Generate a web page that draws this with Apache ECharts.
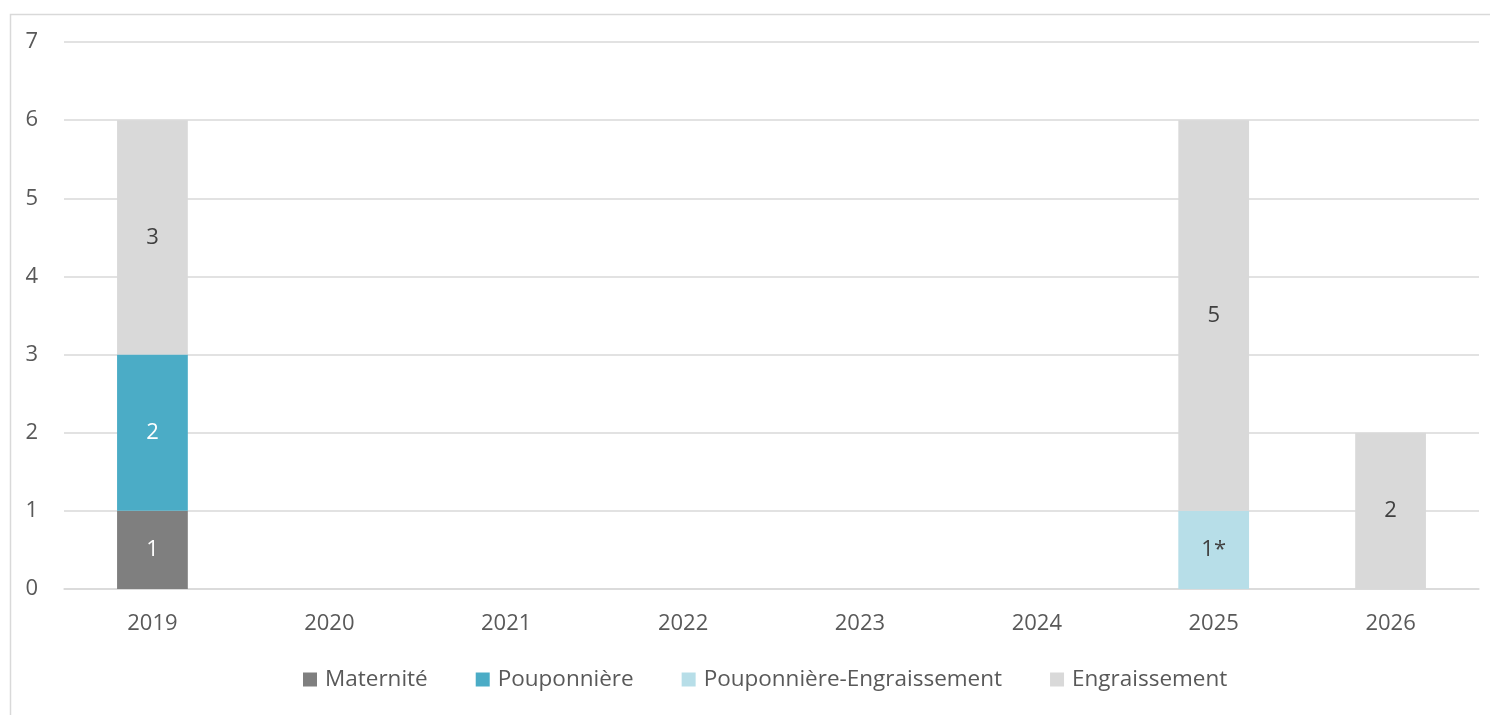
<!DOCTYPE html>
<html><head><meta charset="utf-8">
<script src="https://cdn.jsdelivr.net/npm/echarts@6/dist/echarts.min.js"></script>
<style>html,body{margin:0;padding:0;background:#fff;}#c{width:1490px;height:715px;}</style>
</head><body><div id="c"></div>
<script>
const categories = ['2019','2020','2021','2022','2023','2024','2025','2026'];
const seriesNames = ['Maternité','Pouponnière','Pouponnière-Engraissement','Engraissement'];
const maternite = [1, null, null, null, null, null, null, null];
const pouponniere = [2, null, null, null, null, null, null, null];
const poupEngr = [null, null, null, null, null, null, 1, null];
const poupEngrLabels = ['', '', '', '', '', '', '1*', ''];
const engraissement = [3, null, null, null, null, null, 5, 2];
const yTicks = [0,1,2,3,4,5,6,7];

const colors = ['#7f7f7f','#4bacc6','#b7dee8','#d9d9d9'];
const labelColors = ['#ffffff','#ffffff','#404040','#404040'];
const FONT = '"Open Sans", sans-serif';
const datasets = [maternite, pouponniere, poupEngr, engraissement];

const chart = echarts.init(document.getElementById('c'), null, {renderer:'canvas'});
chart.setOption({
  animation: false,
  textStyle: {fontFamily: FONT},
  graphic: [{type:'rect', left:8, top:12, shape:{width:1500, height:720}, style:{fill:'none', stroke:'#d9d9d9', lineWidth:1.5}, silent:true, z:-1}],
  grid: {left:64, right:11, top:42, bottom:126, containLabel:false},
  legend: {
    bottom: 19, left: 298,
    itemWidth: 14, itemHeight: 14, itemGap: 48,
    icon: 'rect',
    textStyle: {fontFamily: FONT, fontSize: 22.5, color: '#595959', padding: [0,0,0,3]},
    data: seriesNames
  },
  xAxis: {
    type: 'category', data: categories,
    axisLine: {show:true, lineStyle:{color:'#d9d9d9', width:1.5}},
    axisTick: {show:false},
    axisLabel: {fontFamily: FONT, fontSize: 22, color:'#595959', margin: 24}
  },
  yAxis: {
    type: 'value', min: yTicks[0], max: yTicks[yTicks.length-1], interval: 1,
    axisLine: {show:false}, axisTick: {show:false},
    splitLine: {lineStyle:{color:'#d9d9d9', width:1.5}},
    axisLabel: {fontFamily: FONT, fontSize: 22, color:'#595959', margin: 26, align:'right'}
  },
  series: datasets.map((d, i) => ({
    name: seriesNames[i], type: 'bar', stack: 'total', data: d,
    barWidth: '40%',
    itemStyle: {color: colors[i]},
    label: {
      show: true, position: 'inside', fontFamily: FONT, fontSize: 22, color: labelColors[i],
      formatter: i === 2 ? (p => poupEngrLabels[p.dataIndex]) : (p => String(p.value))
    }
  }))
});
</script></body></html>
